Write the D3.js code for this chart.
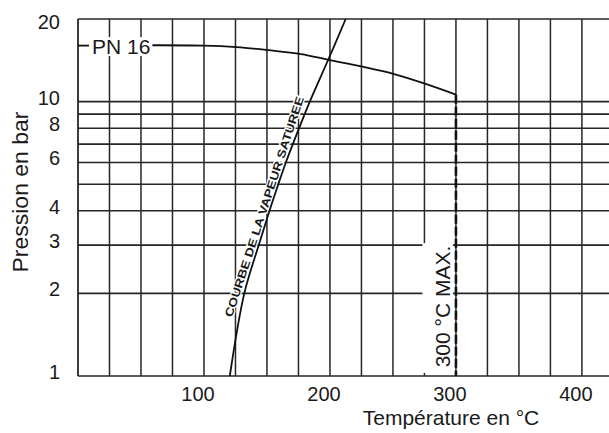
<!DOCTYPE html>
<html>
<head>
<meta charset="utf-8">
<script src="https://cdn.jsdelivr.net/npm/d3@7"></script>
<style>
  body { margin: 0; background: #fff; }
  svg { display: block; }
  text { font-family: "Liberation Sans", Arial, sans-serif; fill: #1a1a1a; }
</style>
</head>
<body>
<script>
// grid + labels
const gridTemps = [0, 25, 50, 75, 100, 125, 150, 175, 200, 225, 250, 275, 300, 325, 350, 375, 400];
const gridBars = [1, 2, 3, 4, 5, 6, 7, 8, 9, 10, 20];
const barLabels = [1, 2, 3, 4, 6, 8, 10, 20];
const tempLabels = [100, 200, 300, 400];

// PN 16 limit curve
const pn16Temp = [0, 100, 126, 151, 177, 199, 226, 251, 276, 300];
const pn16Bar = [16, 16, 15.8, 15.4, 14.9, 14.2, 13.4, 12.6, 11.6, 10.6];

// saturated steam curve
const steamBar = [1, 2, 3, 4, 5, 6, 8, 10, 14, 20];
const steamTemp = [120.5, 132, 143.5, 152, 159, 165, 175.5, 184, 198, 212.5];

const maxTemp = 300;

const width = 609;
const height = 433;
const margin = {top: 19, right: 0, bottom: 57, left: 78};

const x = d3.scaleLinear()
  .domain([0, 421.5])
  .range([margin.left, width - margin.right]);

const y = d3.scaleLog()
  .domain([1, 20])
  .range([height - margin.bottom, margin.top]);

const svg = d3.select("body").append("svg")
  .attr("width", width)
  .attr("height", height);

const gridColor = "#262626";

// vertical grid
svg.append("g")
  .selectAll("line")
  .data(gridTemps)
  .enter().append("line")
  .attr("x1", d => x(d))
  .attr("x2", d => x(d))
  .attr("y1", y(20))
  .attr("y2", y(1))
  .style("stroke", gridColor)
  .style("stroke-width", d => d === 0 ? 1.8 : 1.5);

// horizontal grid
svg.append("g")
  .selectAll("line")
  .data(gridBars)
  .enter().append("line")
  .attr("x1", x(0))
  .attr("x2", width)
  .attr("y1", d => y(d))
  .attr("y2", d => y(d))
  .style("stroke", gridColor)
  .style("stroke-width", 1.6);

// y tick labels
svg.append("g")
  .selectAll("text")
  .data(barLabels)
  .enter().append("text")
  .attr("x", 60)
  .attr("y", d => Math.max(y(d) - 4, 22))
  .attr("text-anchor", "end")
  .attr("dominant-baseline", "central")
  .style("font-size", "20px")
  .text(d => d);

// x tick labels
svg.append("g")
  .selectAll("text")
  .data(tempLabels)
  .enter().append("text")
  .attr("x", d => x(d) - 6)
  .attr("y", y(1) + 25)
  .attr("text-anchor", "middle")
  .style("font-size", "20px")
  .text(d => d);

// axis titles
svg.append("text")
  .attr("transform", "translate(28,192) rotate(-90)")
  .attr("text-anchor", "middle")
  .attr("textLength", 161)
  .attr("lengthAdjust", "spacingAndGlyphs")
  .style("font-size", "22px")
  .text("Pression en bar");

svg.append("text")
  .attr("x", 451)
  .attr("y", 425)
  .attr("text-anchor", "middle")
  .style("font-size", "21px")
  .text("Température en °C");

// "300 °C MAX." box
svg.append("rect")
  .attr("x", x(275) - 2)
  .attr("y", y(3) - 2)
  .attr("width", x(maxTemp) - x(275) - 1)
  .attr("height", y(1) - y(3) - 1)
  .style("fill", "#fff");

svg.append("text")
  .attr("transform", "translate(" + (x(maxTemp) - 6) + "," + ((y(3) + y(1)) / 2 - 4) + ") rotate(-90)")
  .attr("text-anchor", "middle")
  .style("font-size", "21px")
  .text("300 °C MAX.");

// steam curve label, along the curve (left side)
const labStart = [x(122.3), y(1.63)];
const labEnd = [x(179.4), y(10.3)];
const labAngle = Math.atan2(labEnd[1] - labStart[1], labEnd[0] - labStart[0]) * 180 / Math.PI;
const labLen = Math.hypot(labEnd[0] - labStart[0], labEnd[1] - labStart[1]);

svg.append("text")
  .attr("transform", "translate(" + labStart[0] + "," + labStart[1] + ") rotate(" + labAngle + ")")
  .attr("textLength", labLen)
  .attr("lengthAdjust", "spacingAndGlyphs")
  .style("font-size", "11.5px")
  .style("font-weight", "bold")
  .style("stroke", "#fff")
  .style("stroke-width", 2.5)
  .style("paint-order", "stroke")
  .text("COURBE DE LA VAPEUR SATUREE");

const steamData = steamBar.map((p, i) => ({t: steamTemp[i], p: p}));
const pn16Data = pn16Temp.map((t, i) => ({t: t, p: pn16Bar[i]}));

const line = d3.line()
  .x(d => x(d.t))
  .y(d => y(d.p))
  .curve(d3.curveCatmullRom);

svg.append("path")
  .datum(steamData)
  .attr("d", line)
  .style("fill", "none")
  .style("stroke", "#111")
  .style("stroke-width", 1.8);

svg.append("path")
  .datum(pn16Data)
  .attr("d", line)
  .style("fill", "none")
  .style("stroke", "#111")
  .style("stroke-width", 1.8);

// PN 16 label with white knock-out
const pnLabel = svg.append("g");
const pnText = pnLabel.append("text")
  .attr("x", x(0) + 14)
  .attr("y", y(16) + 1)
  .attr("dominant-baseline", "central")
  .style("font-size", "21px")
  .text("PN 16");
const bb = pnText.node().getBBox();
pnLabel.insert("rect", "text")
  .attr("x", bb.x - 3)
  .attr("y", bb.y + 2)
  .attr("width", bb.width + 5)
  .attr("height", bb.height - 4)
  .style("fill", "#fff");

// 300 °C max, dashed
svg.append("line")
  .attr("x1", x(maxTemp))
  .attr("x2", x(maxTemp))
  .attr("y1", y(pn16Bar[pn16Bar.length - 1]))
  .attr("y2", y(1))
  .style("stroke", "#111")
  .style("stroke-width", 2.6)
  .style("stroke-dasharray", "9,3");
</script>
</body>
</html>
